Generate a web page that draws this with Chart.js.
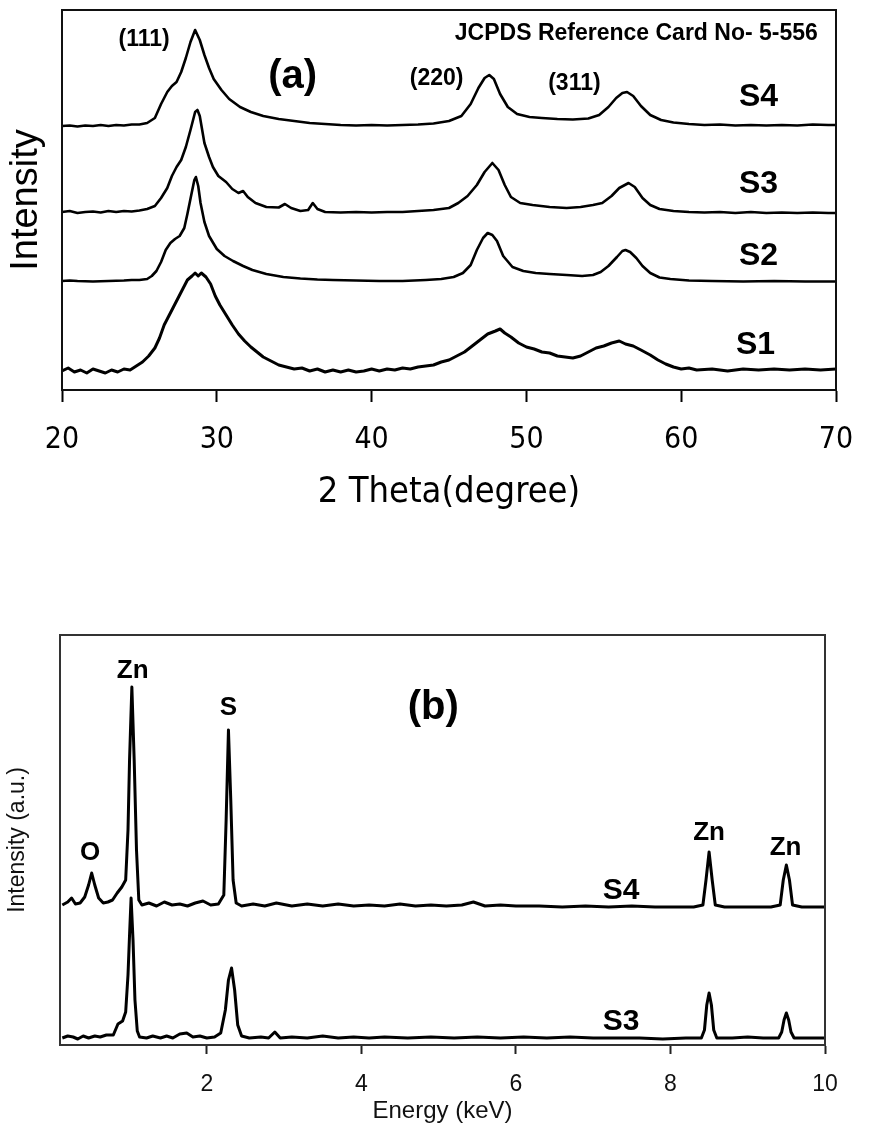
<!DOCTYPE html>
<html><head><meta charset="utf-8">
<script src="https://cdn.jsdelivr.net/npm/chart.js@4.4.0/dist/chart.umd.min.js"></script>
<style>
body{margin:0;background:#fff;width:869px;height:1128px;overflow:hidden;position:relative}
canvas{position:absolute;left:0}
#xrd{top:0}
#edx{top:560px}
</style></head><body>
<canvas id="xrd" width="869" height="520"></canvas>
<canvas id="edx" width="869" height="568"></canvas>
<script>
// ---- (a) XRD patterns, [2theta, stacked intensity a.u.] ----
var xrdTicks = [20, 30, 40, 50, 60, 70];

var xrdS4 = [[20,264],[20.5,264.5],[21,263.5],[21.5,264.5],[22,264],[22.5,265],[23,264],[23.5,265],[24,264.5],[24.5,265.5],
  [25,265.5],[25.5,267],[26,272],[26.4,286],[26.8,298],[27.1,304],[27.4,308],[27.7,318],[28,332],[28.3,348],[28.6,360],
  [28.9,350],[29.2,335],[29.5,322],[29.8,311],[30.3,300],[30.8,291],[31.5,283],[32.2,278],[33,274],[34,271],[35,269],
  [36,267],[37,266],[38,265],[39,264.5],[40,265],[41,264.5],[42,265],[43,265.5],[44,266.5],[45,269],[45.8,274],[46.4,286],
  [46.9,302],[47.3,312],[47.6,315],[47.9,311],[48.3,296],[48.8,283],[49.4,276],[50.2,273],[51,272],[52,271],[53,270.5],
  [54,271.5],[54.7,275],[55.3,283],[55.8,292],[56.2,297],[56.5,298],[56.9,294],[57.4,284],[58,275],[58.7,270],[59.5,267.5],
  [60.5,266],[61.5,265],[62.5,265.5],[63.5,264.5],[64.5,265],[65.5,264.5],[66.5,265],[67.5,264.5],[68.5,265.5],[69.5,265],[70,265]];

var xrdS3 = [[20,178],[20.5,179],[21,177],[21.5,178],[22,178.5],[22.5,177.5],[23,179],[23.5,178],[24,179],[24.5,178.5],
  [25,179.5],[25.5,181],[26,184],[26.4,192],[26.8,202],[27.1,214],[27.4,223],[27.7,230],[28,243],[28.3,260],[28.6,278],
  [28.75,280],[28.9,274],[29.2,247],[29.5,233],[29.75,223],[30.1,214],[30.6,208],[31,201],[31.4,197],[31.7,199],[32,193],
  [32.5,187],[33.2,183],[34,182.5],[34.4,186],[34.8,182],[35.4,179],[35.9,180],[36.2,187],[36.5,181],[37,178],[38,177.5],
  [39,178],[40,177.5],[41,178],[42,178],[43,179],[44,180],[45,182],[45.6,187],[46.2,194],[46.8,205],[47.3,218],[47.8,227],
  [48.2,220],[48.6,205],[49,193],[49.6,187],[50.4,185],[51.5,183],[52.6,182],[53.5,183],[54.3,185],[54.9,187],[55.5,194],
  [56,202],[56.6,207],[57,203],[57.5,192],[58,185],[58.6,181],[59.5,179],[60.5,178],[61.5,177.5],[62.5,178],[63.5,177],
  [64.5,178],[65.5,177],[66.5,177.5],[67.5,177],[68.5,177.5],[69.5,177],[70,177]];

var xrdS2 = [[20,109],[20.5,109.5],[21,109],[22,108.5],[23,109],[24,109.5],[24.5,110],[25,110],[25.5,111],[25.8,114],
  [26.1,119],[26.4,128],[26.7,140],[27,147],[27.3,151],[27.6,154],[27.9,162],[28.1,176],[28.35,195],[28.55,210],[28.65,213],
  [28.8,204],[28.95,187],[29.2,168],[29.5,154],[30,141],[30.5,134],[31.05,129],[31.7,124],[32.3,120],[33.2,116],[34.3,113],
  [35.4,111.5],[36.5,110.5],[37.5,110],[39,109.5],[40.5,109],[42,109],[43.5,110],[44.5,111],[45.3,113],[45.9,117],[46.4,125],
  [46.8,140],[47.2,152],[47.5,157],[47.8,155],[48.1,149],[48.5,134],[49.1,123],[49.8,119],[50.6,117],[51.5,116],[52.6,115],
  [53.6,114],[54.3,115],[54.8,118],[55.3,124],[55.85,133],[56.2,139],[56.4,140],[56.7,138],[57.1,132],[57.5,124],[58,117],
  [58.6,112.5],[59.3,111],[60.5,109.5],[62,109],[64,108.5],[66,109],[68,108.5],[70,108.5]];

var xrdS1 = [[20,19],[20.4,22],[20.8,18],[21.2,20],[21.6,17],[22,21],[22.4,19],[22.8,17],[23.2,20],[23.6,18],[24,21],
  [24.4,20],[24.8,24],[25.2,28],[25.6,34],[26,42],[26.3,52],[26.6,65],[26.9,74],[27.2,83],[27.5,92],[27.8,101],[28.1,110],
  [28.4,114],[28.6,117],[28.8,114],[29,117],[29.3,113],[29.6,106],[29.9,94],[30.2,85],[30.6,75],[31,65],[31.4,56],[31.8,49],
  [32.2,43],[32.6,38],[33,33],[33.5,29],[34,25],[34.5,23],[35,21],[35.5,22],[36,19],[36.5,21],[37,18],[37.5,20],[38,18],
  [38.5,20],[39,18],[39.5,19],[40,21],[40.5,19],[41,21],[41.5,20],[42,22],[42.5,21],[43,23],[43.5,24],[44,25],[44.5,28],
  [45,30],[45.5,34],[46,38],[46.5,44],[47,50],[47.5,56],[48,59],[48.3,61],[48.6,57],[49,53],[49.5,47],[50,43],[50.5,41],
  [51,38],[51.5,37],[52,34],[52.5,33],[53,32],[53.5,34],[54,38],[54.5,42],[55,44],[55.5,47],[56,49],[56.4,46],[56.9,44],
  [57.4,40],[58,35],[58.5,30],[59,26],[59.5,23],[60,21],[60.5,22],[61,20],[62,21],[63,19],[64,21],[65,20],[66,21],[67,20],
  [68,21],[69,20],[70,21]];

// ---- (b) EDX spectra, [energy keV, stacked intensity a.u.] ----
var edxTicks = [2, 4, 6, 8, 10];

var edxS4 = [[0.13,140],[0.2,143],[0.25,147],[0.3,141],[0.36,142],[0.42,148],[0.47,160],[0.51,172],[0.55,160],[0.6,147],
  [0.66,142],[0.72,143],[0.78,145],[0.84,152],[0.9,158],[0.95,165],[0.98,215],[1.0,285],[1.03,358],[1.06,285],[1.09,195],
  [1.12,145],[1.16,140],[1.25,142],[1.35,139],[1.45,143],[1.55,140],[1.65,141],[1.75,139],[1.85,142],[1.95,144],[2.05,140],
  [2.15,141],[2.22,150],[2.25,225],[2.28,315],[2.31,245],[2.34,165],[2.38,142],[2.45,139],[2.6,141],[2.75,139],[2.9,142],
  [3.1,139],[3.3,141],[3.5,139],[3.7,141],[3.9,139],[4.1,140],[4.3,139],[4.5,141],[4.7,139],[4.9,140],[5.1,139],[5.3,140],
  [5.45,143],[5.6,139],[5.8,140],[6,139],[6.3,139],[6.6,138],[6.9,139],[7.2,138],[7.5,139],[7.8,138],[8.1,138],[8.3,138],
  [8.42,140],[8.46,165],[8.5,193],[8.54,165],[8.58,140],[8.7,138],[9,138],[9.3,138],[9.42,140],[9.46,165],[9.5,180],
  [9.54,165],[9.58,140],[9.7,138],[10,138]];

var edxS3 = [[0.13,7],[0.2,9],[0.27,8],[0.33,6],[0.4,9],[0.47,7],[0.55,9],[0.62,8],[0.7,10],[0.79,10],[0.85,21],[0.91,24],
  [0.95,33],[0.98,70],[1.0,110],[1.02,147],[1.045,105],[1.07,45],[1.1,14],[1.13,8],[1.22,7],[1.3,9],[1.4,7],[1.48,9],
  [1.56,7],[1.65,11],[1.74,12],[1.82,8],[1.91,9],[2,7],[2.1,8],[2.18,12],[2.24,35],[2.28,65],[2.32,77],[2.36,55],[2.4,20],
  [2.45,9],[2.55,7],[2.7,8],[2.8,7],[2.88,13],[2.95,7],[3.1,8],[3.3,7],[3.5,9],[3.7,7],[3.9,8],[4.1,7],[4.3,8],[4.6,7],
  [4.9,8],[5.2,7],[5.5,8],[5.8,7],[6.1,8],[6.4,7],[6.7,8],[7,7],[7.3,7],[7.6,7],[7.9,6],[8.2,7],[8.4,7],[8.44,15],[8.47,40],
  [8.5,52],[8.53,40],[8.56,15],[8.6,7],[8.8,7],[9,8],[9.2,7],[9.4,7],[9.44,13],[9.47,25],[9.5,32],[9.53,25],[9.56,13],
  [9.6,7],[9.8,7],[10,7]];

// text labels: [text, x value, y value, kind]
var xrdLabels = [["(111)",25.3,350,"hkl"],["(220)",44.2,311,"hkl"],["(311)",53.1,306,"hkl"],
  ["JCPDS Reference Card No- 5-556",57.1,356,"hkl"],["(a)",34.9,313,"panel"],
  ["S4",65,293,"sample"],["S3",65,206,"sample"],["S2",65,134,"sample"],["S1",64.8,45,"sample"]];
var edxLabels = [["Zn",1.04,374,"elem"],["S",2.28,337,"elem"],["O",0.49,192,"elem"],["Zn",8.5,212,"elem"],
  ["Zn",9.49,197,"elem"],["(b)",4.93,337,"panel"],["S4",7.36,154,"sample"],["S3",7.36,23,"sample"]];

var NARROW = '"Liberation Sans Narrow", "DejaVu Sans Condensed", "Arial Narrow", sans-serif';
var SANS = '"Liberation Sans", Arial, sans-serif';

var frame = {
  id: 'frame',
  afterDraw: function(chart, args, opts){
    var a = chart.chartArea, c = chart.ctx;
    c.save();
    c.strokeStyle = opts.color;
    c.lineWidth = 2;
    c.strokeRect(a.left, a.top, a.right - a.left, a.bottom - a.top);
    c.restore();
  }
};

var textLabels = {
  id: 'textLabels',
  afterDraw: function(chart, args, opts){
    var c = chart.ctx, xs = chart.scales.x, ys = chart.scales.y;
    c.save();
    c.fillStyle = '#000';
    c.textAlign = 'center';
    c.textBaseline = 'middle';
    opts.items.forEach(function(l){
      c.font = opts.fonts[l[3]];
      c.fillText(l[0], xs.getPixelForValue(l[1]), ys.getPixelForValue(l[2]));
    });
    c.restore();
  }
};

function lineSet(data, w){
  return {data: data, borderColor: '#000', borderWidth: w, pointRadius: 0, tension: 0,
          borderJoinStyle: 'round', fill: false};
}

// fixed axis box so the plot frame lands where the figure has it
function fixX(h){
  return function(s){ s.height = h; s.paddingLeft = 0; s.paddingRight = 0; };
}

Chart.register(frame, textLabels);

new Chart(document.getElementById('xrd'), {
  type: 'line',
  data: {datasets: [lineSet(xrdS4, 2.6), lineSet(xrdS3, 2.6), lineSet(xrdS2, 2.6), lineSet(xrdS1, 3)]},
  options: {
    responsive: false, animation: false, events: [],
    layout: {padding: {top: 10, right: 33, left: 0, bottom: 0}},
    plugins: {
      legend: {display: false}, tooltip: {enabled: false},
      frame: {color: '#111'},
      textLabels: {items: xrdLabels, fonts: {
        hkl: 'bold 23px ' + SANS, panel: 'bold 40px ' + SANS, sample: 'bold 32px ' + SANS}}
    },
    scales: {
      x: {
        type: 'linear', min: 20, max: 70,
        afterBuildTicks: function(s){ s.ticks = xrdTicks.map(function(v){ return {value: v}; }); },
        afterFit: fixX(130),
        grid: {drawOnChartArea: false, drawTicks: true, tickLength: 12, tickWidth: 2, tickColor: '#000'},
        border: {display: true, color: '#000', width: 2},
        ticks: {color: '#000', padding: 20, maxRotation: 0, font: {family: NARROW, size: 30}},
        title: {display: true, text: '2 Theta(degree)', color: '#000', padding: {top: 0, bottom: 6},
                font: {family: NARROW, size: 36}}
      },
      y: {
        min: 0, max: 380,
        afterFit: function(s){ s.width = 62; },
        grid: {display: false}, border: {display: false},
        ticks: {display: false},
        title: {display: true, text: 'Intensity', color: '#000', padding: {top: 4, bottom: 0},
                font: {family: SANS, size: 38}}
      }
    }
  }
});

new Chart(document.getElementById('edx'), {
  type: 'line',
  data: {datasets: [lineSet(edxS4, 3), lineSet(edxS3, 3)]},
  options: {
    responsive: false, animation: false, events: [],
    layout: {padding: {top: 75, right: 44, left: 0, bottom: 0}},
    plugins: {
      legend: {display: false}, tooltip: {enabled: false},
      frame: {color: '#333'},
      textLabels: {items: edxLabels, fonts: {
        elem: 'bold 26px ' + SANS, panel: 'bold 40px ' + SANS, sample: 'bold 30px ' + SANS}}
    },
    scales: {
      x: {
        type: 'linear', min: 0.1, max: 10,
        afterBuildTicks: function(s){ s.ticks = edxTicks.map(function(v){ return {value: v}; }); },
        afterFit: fixX(83),
        grid: {drawOnChartArea: false, drawTicks: true, tickLength: 9, tickWidth: 2, tickColor: '#222'},
        border: {display: true, color: '#222', width: 2},
        ticks: {color: '#111', padding: 17, maxRotation: 0, font: {family: SANS, size: 23}},
        title: {display: true, text: 'Energy (keV)', color: '#111', padding: {top: 0, bottom: 2},
                font: {family: SANS, size: 24}}
      },
      y: {
        min: 0, max: 410,
        afterFit: function(s){ s.width = 60; },
        grid: {display: false}, border: {display: false},
        ticks: {display: false},
        title: {display: true, text: 'Intensity (a.u.)', color: '#111', padding: {top: 4, bottom: 0},
                font: {family: SANS, size: 23}}
      }
    }
  }
});
</script>
</body></html>
